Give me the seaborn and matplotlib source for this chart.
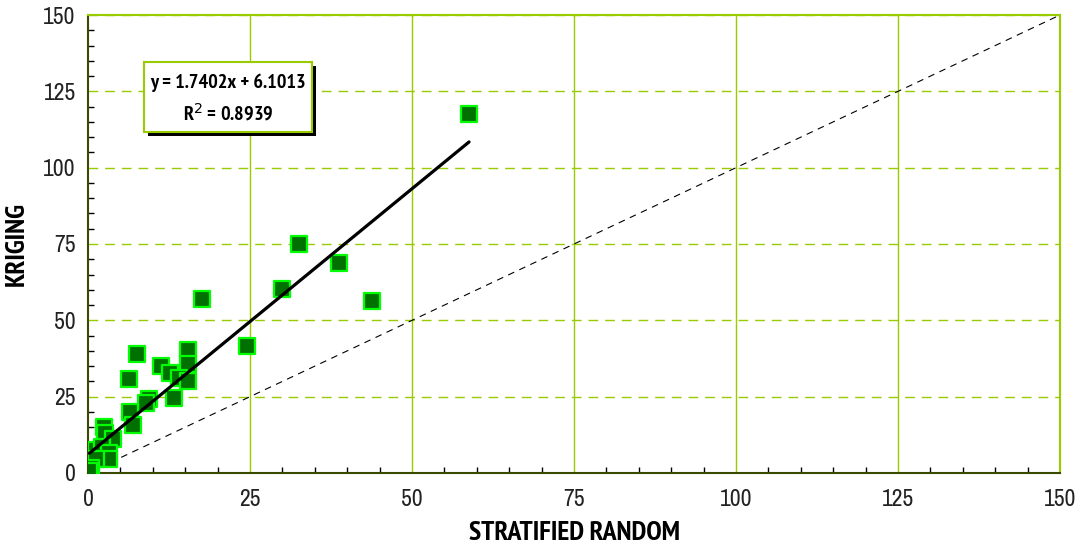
import matplotlib
matplotlib.use("Agg")
import matplotlib.pyplot as plt
import matplotlib.ticker as ticker
from matplotlib import font_manager
from matplotlib.patches import Rectangle
import numpy as np
import pandas as pd
import seaborn as sns

# values
stratified = [58.8, 32.5, 38.8, 43.8, 29.9, 17.6, 24.6, 7.6, 15.5, 15.5,
              11.2, 12.6, 14.0, 15.5, 6.3, 13.3, 9.4, 8.9, 6.5, 6.9,
              2.4, 2.6, 3.9, 1.2, 2.1, 3.3, 3.3, 1.3, 0.4, 0.2]
kriging = [117.5, 75.0, 68.9, 56.4, 60.2, 57.0, 41.7, 39.0, 40.3, 35.7,
           35.0, 32.9, 31.0, 30.2, 30.8, 24.7, 24.2, 22.8, 20.1, 15.7,
           15.2, 13.0, 11.0, 7.5, 8.6, 6.4, 4.5, 4.5, 1.5, 0.5]
slope = 1.7402
intercept = 6.1013
r2 = 0.8939
axis_max = 150

sns.set_theme(style="white")

# narrow fonts, with a bold face for the labels
fonts = font_manager.fontManager.ttflist
wanted = ["Arial Narrow", "Liberation Sans Narrow", "Archivo Narrow",
          "PT Sans Narrow", "Roboto Condensed", "Pragati Narrow",
          "Open Sans Condensed", "Liberation Sans", "DejaVu Sans"]
regular = [n for n in wanted if any(f.name == n for f in fonts)]
bold = [n for n in wanted
        if any(f.name == n and int(f.weight) >= 600 for f in fonts)]
plt.rcParams["font.family"] = regular[:1] + ["DejaVu Sans"]
plt.rcParams["text.color"] = "black"
bold_family = bold[:1] + ["DejaVu Sans"]

green = "#99CC00"
df = pd.DataFrame({"x": stratified, "y": kriging})

fig = plt.figure(figsize=(10.79, 5.48), dpi=100)
ax = fig.add_axes([0.0816, 0.1369, 0.9008, 0.8357])

# grid
for v in range(25, axis_max + 1, 25):
    ax.axvline(v, color=green, lw=1.0, zorder=0)
    ax.axhline(v, color=green, lw=1.0, ls=(0, (7, 5)), zorder=0)

# 1:1 line
one_to_one = pd.DataFrame({"x": [0, axis_max], "y": [0, axis_max]})
sns.lineplot(data=one_to_one, x="x", y="y", ax=ax, color="black", lw=0.8,
             linestyle=(0, (6, 5)), zorder=2)

sns.scatterplot(data=df, x="x", y="y", ax=ax, marker="s", s=125,
                color="#007000", edgecolor="#00FF00", linewidth=1.6, zorder=3)

# trend line
xs = np.array([min(stratified), max(stratified)])
trend = pd.DataFrame({"x": xs, "y": slope * xs + intercept})
sns.lineplot(data=trend, x="x", y="y", ax=ax, color="black", lw=2.3, zorder=4)

ax.set_xlim(0, axis_max)
ax.set_ylim(0, axis_max)
ax.xaxis.set_major_locator(ticker.MultipleLocator(25))
ax.yaxis.set_major_locator(ticker.MultipleLocator(25))
ax.xaxis.set_minor_locator(ticker.MultipleLocator(5))
ax.yaxis.set_minor_locator(ticker.MultipleLocator(5))
ax.tick_params(axis="x", which="major", direction="inout", length=9, width=1.2,
               color="black", labelsize=17, labelcolor="#222222", pad=7)
ax.tick_params(axis="y", which="major", direction="out", length=5, width=1.2,
               color="black", labelsize=17, labelcolor="#222222", pad=4)
ax.tick_params(which="minor", direction="in", length=4, width=1, color="black")
ax.tick_params(axis="x", which="minor", bottom=True)
ax.tick_params(axis="y", which="minor", left=True)

for side in ["top", "right"]:
    ax.spines[side].set_color(green)
    ax.spines[side].set_linewidth(1.5)
for side in ["left", "bottom"]:
    ax.spines[side].set_color("#3a4a00")
    ax.spines[side].set_linewidth(1.5)

ax.set_xlabel("STRATIFIED RANDOM", fontsize=20, fontweight="bold", labelpad=8,
              color="black", family=bold_family)
ax.set_ylabel("KRIGING", fontsize=20, fontweight="bold", labelpad=10,
              color="black", family=bold_family)

# equation box with shadow
bx0, by0, bw, bh = 0.0576, 0.7445, 0.1729, 0.1529
ax.add_patch(Rectangle((bx0 + 0.004, by0 - 0.009), bw, bh, transform=ax.transAxes,
                       facecolor="black", edgecolor="none", zorder=5))
ax.add_patch(Rectangle((bx0, by0), bw, bh, transform=ax.transAxes,
                       facecolor="white", edgecolor=green, lw=1.5, zorder=6))
ax.text(bx0 + bw / 2, by0 + bh * 0.7, f"y = {slope:.4f}x + {intercept:.4f}",
        transform=ax.transAxes, ha="center", va="center", fontsize=14.5,
        fontweight="bold", family=bold_family, zorder=7)
ax.text(bx0 + bw / 2, by0 + bh * 0.27, f"R$^2$ = {r2:.4f}",
        transform=ax.transAxes, ha="center", va="center", fontsize=14.5,
        fontweight="bold", family=bold_family, zorder=7)

fig.savefig("out.png", dpi=100)
